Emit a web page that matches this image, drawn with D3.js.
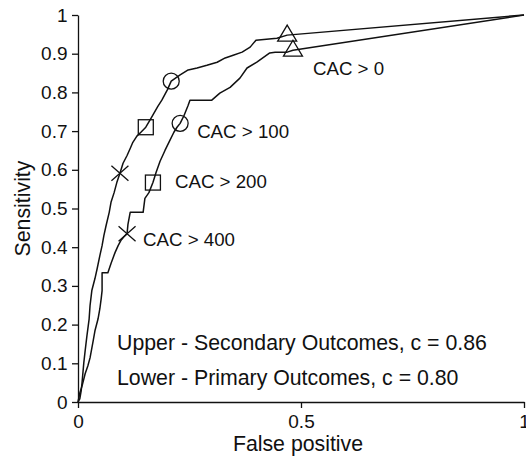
<!DOCTYPE html>
<html>
<head>
<meta charset="utf-8">
<script src="https://cdn.jsdelivr.net/npm/d3@7"></script>
<style>
  body { margin: 0; background: #fff; overflow: hidden; }
  svg { display: block; }
  svg text { font-family: "Liberation Sans", Arial, Helvetica, sans-serif; fill: #111; }
</style>
</head>
<body>
<div id="chart-area"></div>
<script>
/*
*    roc curves, CAC thresholds
*/

// Data: [false positive, sensitivity]
var secondaryROC = [
  [0, 0], [0.004, 0.008], [0.007, 0.028], [0.009, 0.049], [0.013, 0.101], [0.016, 0.132],
  [0.020, 0.171], [0.025, 0.215], [0.027, 0.249], [0.031, 0.288], [0.038, 0.319], [0.043, 0.345],
  [0.049, 0.378], [0.054, 0.404], [0.058, 0.430], [0.063, 0.456], [0.070, 0.490], [0.074, 0.516],
  [0.081, 0.541], [0.087, 0.567], [0.094, 0.591], [0.101, 0.617], [0.110, 0.637], [0.117, 0.655],
  [0.123, 0.671], [0.132, 0.687], [0.141, 0.697], [0.152, 0.710], [0.161, 0.728], [0.170, 0.746],
  [0.179, 0.764], [0.188, 0.780], [0.200, 0.806], [0.209, 0.829], [0.229, 0.845], [0.247, 0.858],
  [0.267, 0.863], [0.289, 0.870], [0.312, 0.878], [0.330, 0.889], [0.348, 0.896], [0.368, 0.904],
  [0.386, 0.917], [0.399, 0.935], [0.446, 0.940], [0.469, 0.948], [1, 1]
];

var primaryROC = [
  [0, 0], [0.004, 0.023], [0.009, 0.041], [0.016, 0.073], [0.022, 0.093], [0.027, 0.114],
  [0.034, 0.158], [0.038, 0.184], [0.045, 0.215], [0.049, 0.241], [0.052, 0.267], [0.054, 0.288],
  [0.054, 0.334], [0.067, 0.334], [0.074, 0.358], [0.083, 0.386], [0.090, 0.404], [0.096, 0.417],
  [0.103, 0.427], [0.110, 0.435], [0.112, 0.459], [0.117, 0.490], [0.146, 0.490], [0.150, 0.526],
  [0.159, 0.541], [0.168, 0.567], [0.175, 0.593], [0.184, 0.622], [0.195, 0.650], [0.206, 0.676],
  [0.215, 0.697], [0.222, 0.710], [0.229, 0.720], [0.238, 0.741], [0.247, 0.767], [0.251, 0.780],
  [0.300, 0.780], [0.318, 0.798], [0.341, 0.813], [0.363, 0.837], [0.379, 0.863], [0.401, 0.878],
  [0.430, 0.902], [0.442, 0.904], [0.469, 0.904], [0.482, 0.909], [1, 1]
];

var thresholds = ["CAC > 400", "CAC > 200", "CAC > 100", "CAC > 0"];
var markerShapes = ["cross", "square", "circle", "triangle"];
var secondaryPoints = [[0.094, 0.591], [0.152, 0.710], [0.209, 0.829], [0.469, 0.948]];
var primaryPoints = [[0.110, 0.435], [0.168, 0.567], [0.229, 0.720], [0.482, 0.909]];

var xTicks = [0, 0.5, 1];
var yTicks = [0, 0.1, 0.2, 0.3, 0.4, 0.5, 0.6, 0.7, 0.8, 0.9, 1];
var legendLines = ["Upper - Secondary Outcomes, c = 0.86", "Lower - Primary Outcomes, c = 0.80"];

var width = 526;
var height = 457;
var margin = {top: 15, right: 2, bottom: 55, left: 78};
var innerWidth = width - margin.left - margin.right;
var innerHeight = height - margin.top - margin.bottom;
var tickFont = "19px";
var labelFont = "18.7px";
var titleFont = "21.3px";

const svg = d3.select("#chart-area")
  .append("svg")
    .attr("width", width)
    .attr("height", height);

const g = svg.append("g")
  .attr("transform", "translate(" + margin.left + ", " + margin.top + ")");

//Scales
var x = d3.scaleLinear().domain([0, 1]).range([0, innerWidth]);
var y = d3.scaleLinear().domain([0, 1]).range([innerHeight, 0]);

//Axes
var fmt = d3.format(".1~f");

var xAxisGroup = g.append("g")
  .attr("transform", "translate(0, " + innerHeight + ")")
  .call(d3.axisBottom(x).tickValues(xTicks).tickFormat(fmt).tickSize(6).tickSizeOuter(0).tickPadding(6.5));

var yAxisGroup = g.append("g")
  .call(d3.axisLeft(y).tickValues(yTicks).tickFormat(fmt).tickSize(6).tickSizeOuter(0).tickPadding(4.5));

[xAxisGroup, yAxisGroup].forEach(ax => {
  ax.selectAll("path, line").attr("stroke", "#111").attr("stroke-width", 1.3);
  ax.selectAll("text").style("font-size", tickFont).attr("fill", "#111");
});

//Labels
g.append("text")
  .attr("x", innerWidth / 2 - 3)
  .attr("y", innerHeight + 48.5)
  .style("text-anchor", "middle")
  .style("font-size", titleFont)
  .text("False positive");

g.append("text")
  .attr("transform", "rotate(-90)")
  .attr("x", -innerHeight / 2)
  .attr("y", -48)
  .style("text-anchor", "middle")
  .style("font-size", titleFont)
  .text("Sensitivity");

//Curves
var line = d3.line().x(d => x(d[0])).y(d => y(d[1]));

[secondaryROC, primaryROC].forEach(data => {
  g.append("path")
    .datum(data)
    .attr("d", line)
    .attr("fill", "none")
    .attr("stroke", "#111")
    .attr("stroke-width", 1.5)
    .attr("stroke-linejoin", "round");
});

//Markers
function drawMarker(shape, px, py) {
  var m = g.append("g")
    .attr("transform", "translate(" + px + "," + py + ")")
    .attr("fill", "none")
    .attr("stroke", "#111")
    .attr("stroke-width", 1.3);
  if (shape === "circle") {
    m.append("circle").attr("r", 8);
  } else if (shape === "square") {
    m.append("rect").attr("x", -7.5).attr("y", -7.5).attr("width", 15).attr("height", 15);
  } else if (shape === "triangle") {
    m.append("path").attr("d", "M0,-10L9.5,6L-9.5,6Z");
  } else {
    m.append("path").attr("d", "M-8.5,-7.5L8.5,7.5M-8.5,7.5L8.5,-7.5");
  }
}

secondaryPoints.forEach((d, i) => drawMarker(markerShapes[i], x(d[0]), y(d[1])));
primaryPoints.forEach((d, i) => drawMarker(markerShapes[i], x(d[0]), y(d[1])));

// threshold labels sit beside the lower-curve markers
var labelOffsets = [[16, 12], [22, 5], [17, 15], [20, 25]];
thresholds.forEach((t, i) => {
  g.append("text")
    .attr("x", x(primaryPoints[i][0]) + labelOffsets[i][0])
    .attr("y", y(primaryPoints[i][1]) + labelOffsets[i][1])
    .style("font-size", labelFont)
    .text(t);
});

// c-statistic notes
legendLines.forEach((t, i) => {
  g.append("text")
    .attr("x", 39)
    .attr("y", 335 + i * 35)
    .style("font-size", titleFont)
    .text(t);
});
</script>
</body>
</html>
